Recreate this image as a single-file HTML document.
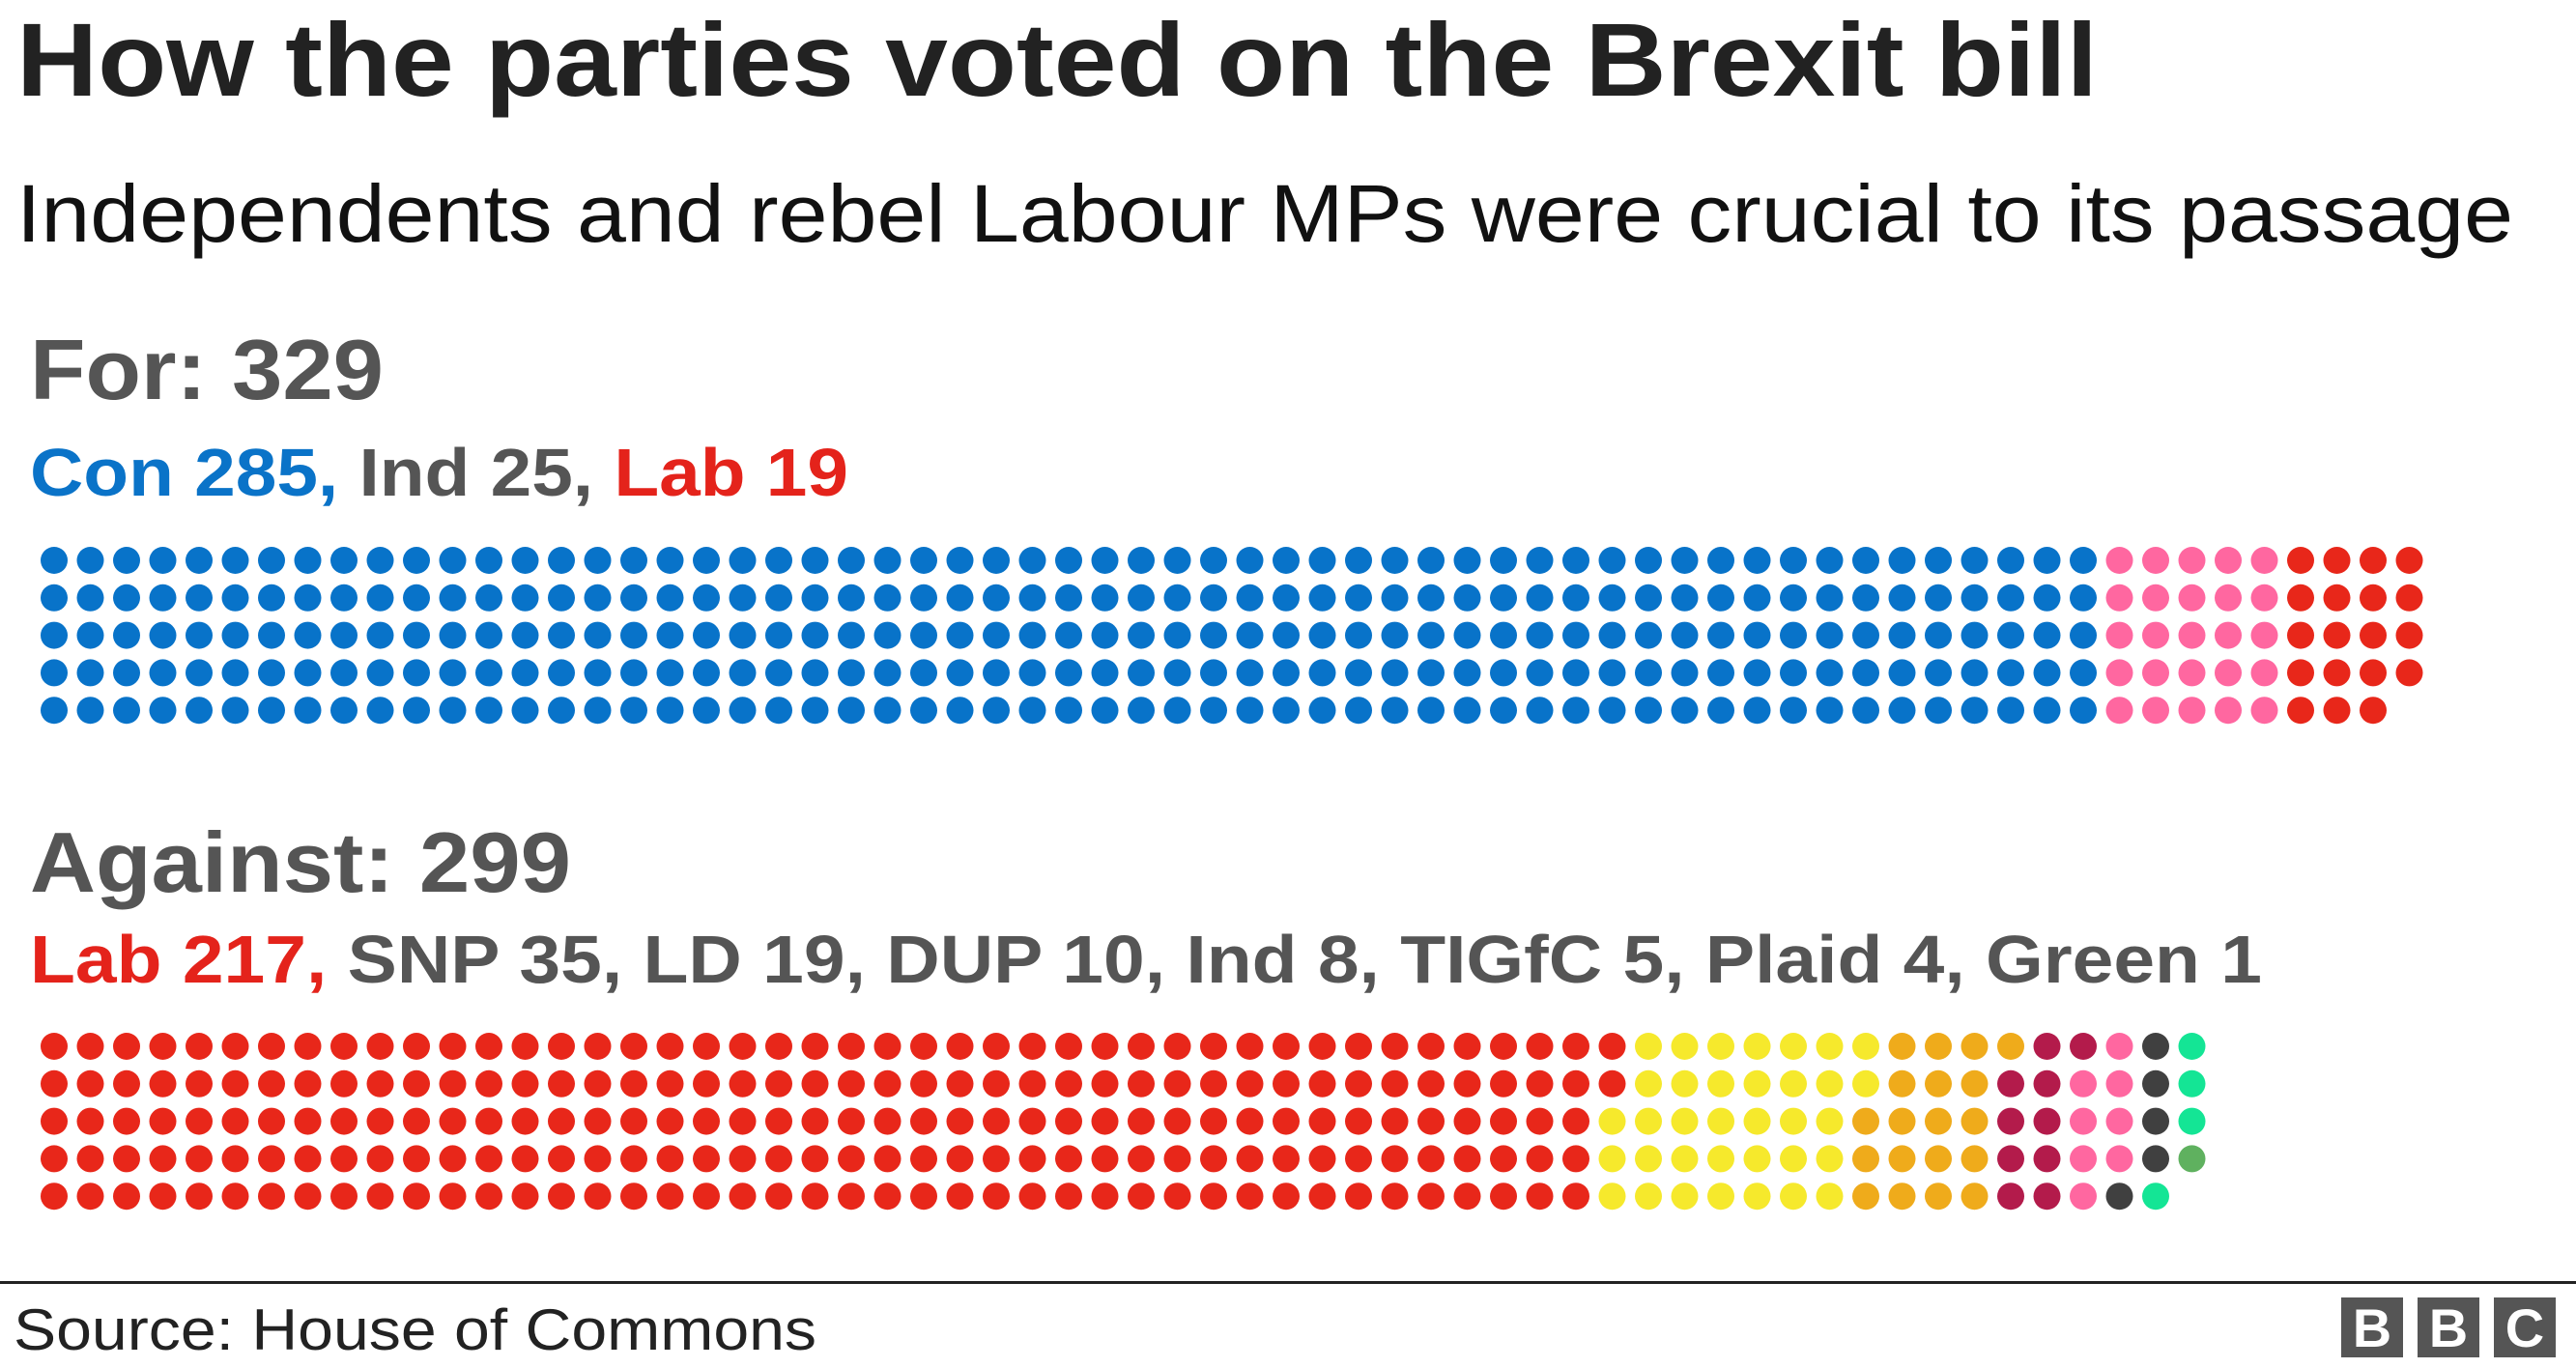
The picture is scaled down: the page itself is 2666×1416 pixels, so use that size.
<!DOCTYPE html>
<html><head><meta charset="utf-8"><style>
html,body{margin:0;padding:0;background:#fff;}
svg{display:block;}
text{font-family:"Liberation Sans",Arial,sans-serif;}
</style></head><body>
<svg id="s" width="2666" height="1416" viewBox="0 0 2666 1416" xmlns="http://www.w3.org/2000/svg">
<text x="17" y="99" font-size="108" font-weight="bold" fill="#222" textLength="2154" lengthAdjust="spacingAndGlyphs">How the parties voted on the Brexit bill</text>
<text x="17" y="250" font-size="84" fill="#111" textLength="2584" lengthAdjust="spacingAndGlyphs">Independents and rebel Labour MPs were crucial to its passage</text>
<text x="31" y="413" font-size="88" font-weight="bold" fill="#555" textLength="366" lengthAdjust="spacingAndGlyphs">For: 329</text>
<text x="31" y="513" font-size="70" font-weight="bold" fill="#555" textLength="847" lengthAdjust="spacingAndGlyphs"><tspan fill="#0a73c8">Con 285, </tspan>Ind 25, <tspan fill="#e4231b">Lab 19</tspan></text>
<text x="31" y="923" font-size="88" font-weight="bold" fill="#555" textLength="560" lengthAdjust="spacingAndGlyphs">Against: 299</text>
<text x="31" y="1017" font-size="70" font-weight="bold" fill="#555" textLength="2310" lengthAdjust="spacingAndGlyphs"><tspan fill="#e4231b">Lab 217, </tspan>SNP 35, LD 19, DUP 10, Ind 8, TIGfC 5, Plaid 4, Green 1</text>
<rect x="0" y="1326" width="2666" height="3" fill="#222"/>
<text x="14" y="1397" font-size="60" fill="#222" textLength="831" lengthAdjust="spacingAndGlyphs">Source: House of Commons</text>
<g font-weight="bold" font-size="56" fill="#fff" text-anchor="middle">
<rect x="2423" y="1343" width="64" height="62" fill="#555"/><text x="2455" y="1394">B</text>
<rect x="2502" y="1343" width="64" height="62" fill="#555"/><text x="2534" y="1394">B</text>
<rect x="2581" y="1343" width="64" height="62" fill="#555"/><text x="2613" y="1394">C</text>
</g>
<g id="dots"></g>
</svg>
<script>
var g=document.getElementById('dots'),ns='http://www.w3.org/2000/svg';
function draw(y0,parts){var i=0;parts.forEach(function(p){for(var k=0;k<p[0];k++){var c=Math.floor(i/5),r=i%5;var e=document.createElementNS(ns,'circle');e.setAttribute('cx',56+c*37.5);e.setAttribute('cy',y0+r*38.8);e.setAttribute('r',14);e.setAttribute('fill',p[1]);g.appendChild(e);i++;}});}
draw(580,[[285,'#0873c9'],[25,'#ff67a0'],[19,'#e8271a']]);
draw(1083,[[217,'#e8271a'],[35,'#f6e92c'],[19,'#efab1b'],[10,'#b31b4b'],[8,'#ff67a0'],[5,'#404040'],[4,'#14e595'],[1,'#5fb15f']]);
</script>
</body></html>
